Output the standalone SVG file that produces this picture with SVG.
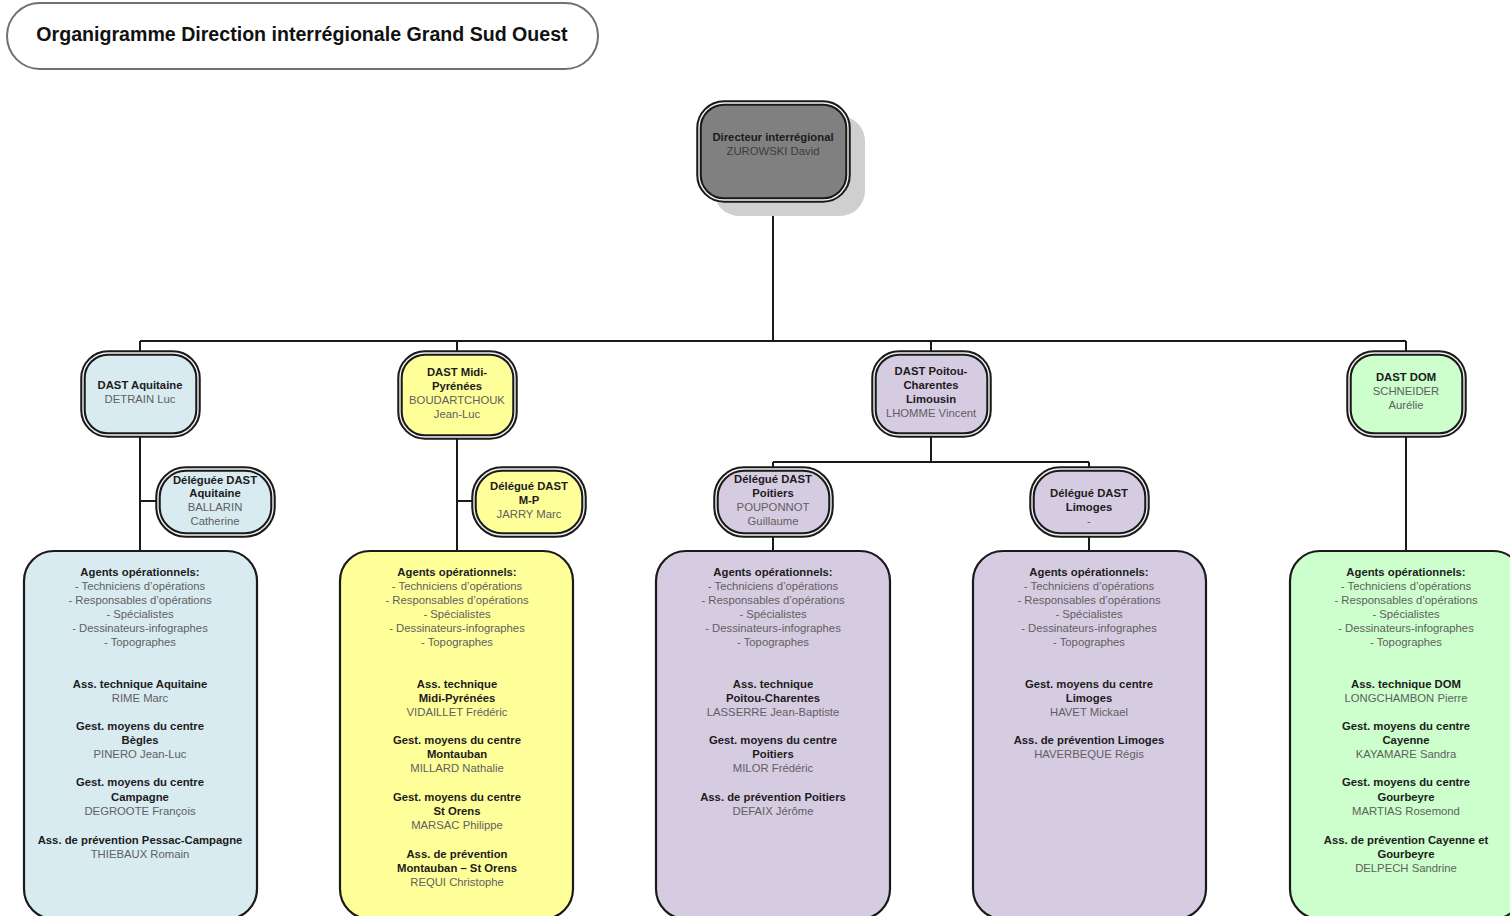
<svg xmlns="http://www.w3.org/2000/svg" width="1510" height="916" viewBox="0 0 1510 916">
<style>
text{font-family:"Liberation Sans",Arial,sans-serif;font-size:11.3px;text-anchor:middle}
.b{font-weight:bold;fill:#1c1c1c}
.n{fill:#606060}
.title{font-size:19.6px;font-weight:bold;fill:#111}
.outer{stroke:#1a1a1a;stroke-width:5.5}
.gap{fill:none;stroke:#f2f2f2;stroke-width:1.4}
.big{stroke:#1a1a1a;stroke-width:2.2}
.con{stroke:#1a1a1a;stroke-width:2;fill:none}
.aq{fill:#d8ebf1}.mp{fill:#ffff9a}.pc{fill:#d6cce2}.dom{fill:#ccffcc}
</style>
<rect width="1510" height="916" fill="#fff"/>
<g id="title">
<rect x="7" y="3" width="591" height="66" rx="33" fill="#fff" stroke="#707070" stroke-width="2"/>
<text class="title" x="302" y="41">Organigramme Direction interrégionale Grand Sud Ouest</text>
</g>
<g id="connectors">
<path class="con" d="M773 200V341M140 341H1406M140 341V352M457 341V352M931 341V352M1406 341V352"/>
<path class="con" d="M140 435V551M140 501H157"/>
<path class="con" d="M457 438V551M457 501H473"/>
<path class="con" d="M931 435V462M773 462H1089M773 462V468M1089 462V468M773 536V551M1089 536V551"/>
<path class="con" d="M1406 435V551"/>
</g>
<g id="director">
<rect x="714" y="116" width="151" height="100" rx="25" fill="#cfcfcf"/>
<rect class="outer" x="699" y="103" width="149" height="97" rx="25" fill="#808080"/>
<rect class="gap" x="699" y="103" width="149" height="97" rx="25" stroke="#c8c8c8"/>
<text class="b" x="773" y="141">Directeur interrégional</text>
<text class="n" x="773" y="155" style="fill:#3c3c3c">ZUROWSKI David</text>
</g>
<g id="dast-aquitaine">
<rect class="outer aq" x="83" y="353" width="115" height="82" rx="25"/>
<rect class="gap" x="83" y="353" width="115" height="82" rx="25"/>
<text class="b" x="140" y="389">DAST Aquitaine</text>
<text class="n" x="140" y="403">DETRAIN Luc</text>
</g>
<g id="dast-midi-pyrenees">
<rect class="outer mp" x="400" y="353" width="115" height="84" rx="25"/>
<rect class="gap" x="400" y="353" width="115" height="84" rx="25"/>
<text class="b" x="457" y="376">DAST Midi-</text>
<text class="b" x="457" y="390">Pyrénées</text>
<text class="n" x="457" y="404">BOUDARTCHOUK</text>
<text class="n" x="457" y="418">Jean-Luc</text>
</g>
<g id="dast-poitou">
<rect class="outer pc" x="874" y="353" width="115" height="82" rx="25"/>
<rect class="gap" x="874" y="353" width="115" height="82" rx="25"/>
<text class="b" x="931" y="375">DAST Poitou-</text>
<text class="b" x="931" y="389">Charentes</text>
<text class="b" x="931" y="403">Limousin</text>
<text class="n" x="931" y="417">LHOMME Vincent</text>
</g>
<g id="dast-dom">
<rect class="outer dom" x="1349" y="353" width="115" height="82" rx="25"/>
<rect class="gap" x="1349" y="353" width="115" height="82" rx="25"/>
<text class="b" x="1406" y="381">DAST DOM</text>
<text class="n" x="1406" y="395">SCHNEIDER</text>
<text class="n" x="1406" y="409">Aurélie</text>
</g>
<g id="delegue-aquitaine">
<rect class="outer aq" x="158" y="469" width="115" height="66" rx="28"/>
<rect class="gap" x="158" y="469" width="115" height="66" rx="28"/>
<text class="b" x="215" y="484">Déléguée DAST</text>
<text class="b" x="215" y="497">Aquitaine</text>
<text class="n" x="215" y="511">BALLARIN</text>
<text class="n" x="215" y="525">Catherine</text>
</g>
<g id="delegue-mp">
<rect class="outer mp" x="474" y="469" width="110" height="66" rx="28"/>
<rect class="gap" x="474" y="469" width="110" height="66" rx="28"/>
<text class="b" x="529" y="490">Délégué DAST</text>
<text class="b" x="529" y="504">M-P</text>
<text class="n" x="529" y="518">JARRY Marc</text>
</g>
<g id="delegue-poitiers">
<rect class="outer pc" x="716" y="469" width="115" height="66" rx="28"/>
<rect class="gap" x="716" y="469" width="115" height="66" rx="28"/>
<text class="b" x="773" y="483">Délégué DAST</text>
<text class="b" x="773" y="497">Poitiers</text>
<text class="n" x="773" y="511">POUPONNOT</text>
<text class="n" x="773" y="525">Guillaume</text>
</g>
<g id="delegue-limoges">
<rect class="outer pc" x="1032" y="469" width="115" height="66" rx="28"/>
<rect class="gap" x="1032" y="469" width="115" height="66" rx="28"/>
<text class="b" x="1089" y="497">Délégué DAST</text>
<text class="b" x="1089" y="511">Limoges</text>
<text class="n" x="1089" y="525">-</text>
</g>
<g id="agents-aquitaine">
<rect class="big aq" x="24" y="551" width="233" height="368" rx="30"/>
<text class="b" x="140" y="576">Agents opérationnels:</text>
<text class="n" x="140" y="590">- Techniciens d’opérations</text>
<text class="n" x="140" y="604">- Responsables d’opérations</text>
<text class="n" x="140" y="618">- Spécialistes</text>
<text class="n" x="140" y="632">- Dessinateurs-infographes</text>
<text class="n" x="140" y="646">- Topographes</text>
<text class="b" x="140" y="688">Ass. technique Aquitaine</text>
<text class="n" x="140" y="702">RIME Marc</text>
<text class="b" x="140" y="730">Gest. moyens du centre</text>
<text class="b" x="140" y="744">Bègles</text>
<text class="n" x="140" y="758">PINERO Jean-Luc</text>
<text class="b" x="140" y="786">Gest. moyens du centre</text>
<text class="b" x="140" y="801">Campagne</text>
<text class="n" x="140" y="815">DEGROOTE François</text>
<text class="b" x="140" y="844">Ass. de prévention Pessac-Campagne</text>
<text class="n" x="140" y="858">THIEBAUX Romain</text>
</g>
<g id="agents-midi-pyrenees">
<rect class="big mp" x="340" y="551" width="233" height="368" rx="30"/>
<text class="b" x="457" y="576">Agents opérationnels:</text>
<text class="n" x="457" y="590">- Techniciens d’opérations</text>
<text class="n" x="457" y="604">- Responsables d’opérations</text>
<text class="n" x="457" y="618">- Spécialistes</text>
<text class="n" x="457" y="632">- Dessinateurs-infographes</text>
<text class="n" x="457" y="646">- Topographes</text>
<text class="b" x="457" y="688">Ass. technique</text>
<text class="b" x="457" y="702">Midi-Pyrénées</text>
<text class="n" x="457" y="716">VIDAILLET Frédéric</text>
<text class="b" x="457" y="744">Gest. moyens du centre</text>
<text class="b" x="457" y="758">Montauban</text>
<text class="n" x="457" y="772">MILLARD Nathalie</text>
<text class="b" x="457" y="801">Gest. moyens du centre</text>
<text class="b" x="457" y="815">St Orens</text>
<text class="n" x="457" y="829">MARSAC Philippe</text>
<text class="b" x="457" y="858">Ass. de prévention</text>
<text class="b" x="457" y="872">Montauban – St Orens</text>
<text class="n" x="457" y="886">REQUI Christophe</text>
</g>
<g id="agents-poitiers">
<rect class="big pc" x="656" y="551" width="234" height="368" rx="30"/>
<text class="b" x="773" y="576">Agents opérationnels:</text>
<text class="n" x="773" y="590">- Techniciens d’opérations</text>
<text class="n" x="773" y="604">- Responsables d’opérations</text>
<text class="n" x="773" y="618">- Spécialistes</text>
<text class="n" x="773" y="632">- Dessinateurs-infographes</text>
<text class="n" x="773" y="646">- Topographes</text>
<text class="b" x="773" y="688">Ass. technique</text>
<text class="b" x="773" y="702">Poitou-Charentes</text>
<text class="n" x="773" y="716">LASSERRE Jean-Baptiste</text>
<text class="b" x="773" y="744">Gest. moyens du centre</text>
<text class="b" x="773" y="758">Poitiers</text>
<text class="n" x="773" y="772">MILOR Frédéric</text>
<text class="b" x="773" y="801">Ass. de prévention Poitiers</text>
<text class="n" x="773" y="815">DEFAIX Jérôme</text>
</g>
<g id="agents-limoges">
<rect class="big pc" x="973" y="551" width="233" height="368" rx="30"/>
<text class="b" x="1089" y="576">Agents opérationnels:</text>
<text class="n" x="1089" y="590">- Techniciens d’opérations</text>
<text class="n" x="1089" y="604">- Responsables d’opérations</text>
<text class="n" x="1089" y="618">- Spécialistes</text>
<text class="n" x="1089" y="632">- Dessinateurs-infographes</text>
<text class="n" x="1089" y="646">- Topographes</text>
<text class="b" x="1089" y="688">Gest. moyens du centre</text>
<text class="b" x="1089" y="702">Limoges</text>
<text class="n" x="1089" y="716">HAVET Mickael</text>
<text class="b" x="1089" y="744">Ass. de prévention Limoges</text>
<text class="n" x="1089" y="758">HAVERBEQUE Régis</text>
</g>
<g id="agents-dom">
<rect class="big dom" x="1290" y="551" width="233" height="368" rx="30"/>
<text class="b" x="1406" y="576">Agents opérationnels:</text>
<text class="n" x="1406" y="590">- Techniciens d’opérations</text>
<text class="n" x="1406" y="604">- Responsables d’opérations</text>
<text class="n" x="1406" y="618">- Spécialistes</text>
<text class="n" x="1406" y="632">- Dessinateurs-infographes</text>
<text class="n" x="1406" y="646">- Topographes</text>
<text class="b" x="1406" y="688">Ass. technique DOM</text>
<text class="n" x="1406" y="702">LONGCHAMBON Pierre</text>
<text class="b" x="1406" y="730">Gest. moyens du centre</text>
<text class="b" x="1406" y="744">Cayenne</text>
<text class="n" x="1406" y="758">KAYAMARE Sandra</text>
<text class="b" x="1406" y="786">Gest. moyens du centre</text>
<text class="b" x="1406" y="801">Gourbeyre</text>
<text class="n" x="1406" y="815">MARTIAS Rosemond</text>
<text class="b" x="1406" y="844">Ass. de prévention Cayenne et</text>
<text class="b" x="1406" y="858">Gourbeyre</text>
<text class="n" x="1406" y="872">DELPECH Sandrine</text>
</g>
</svg>
